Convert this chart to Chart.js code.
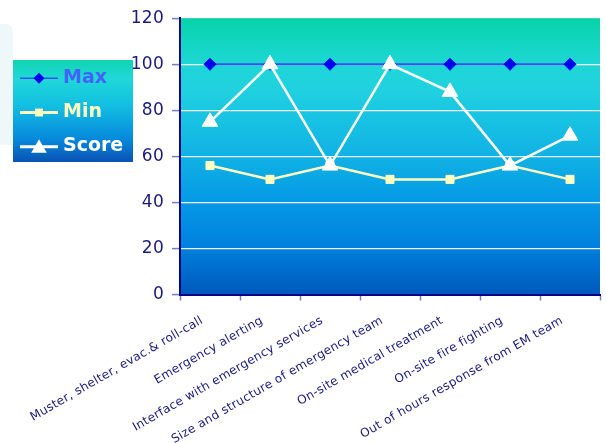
<!DOCTYPE html>
<html><head><meta charset="utf-8">
<script src="https://cdn.jsdelivr.net/npm/chart.js@4.4.1/dist/chart.umd.min.js"></script>
<style>html,body{margin:0;padding:0;background:#fff;overflow:hidden;}#wrap{width:606px;height:443px;position:relative;}</style>
</head><body><div id="wrap"><canvas id="c"></canvas></div>
<script>
const categories = [
  'Muster, shelter, evac.& roll-call',
  'Emergency alerting',
  'Interface with emergency services',
  'Size and structure of emergency team',
  'On-site medical treatment',
  'On-site fire fighting',
  'Out of hours response from EM team'
];
const seriesNames = ['Max', 'Min', 'Score'];
const maxValues = [100, 100, 100, 100, 100, 100, 100];
const minValues = [56, 50, 56, 50, 50, 56, 50];
const scoreValues = [75, 100, 56, 100, 88, 56, 69];
const yTicks = [0, 20, 40, 60, 80, 100, 120];

const NAVY = '#1a1a80';
const TICKC = '#7c7ac4';

function plotGradient(ctx, top, bottom) {
  const g = ctx.createLinearGradient(0, top, 0, bottom);
  g.addColorStop(0.00, '#05d3a8');
  g.addColorStop(0.08, '#10d6bf');
  g.addColorStop(0.17, '#1ed6d6');
  g.addColorStop(0.27, '#20d0e0');
  g.addColorStop(0.34, '#1ac6e2');
  g.addColorStop(0.50, '#10b2e4');
  g.addColorStop(0.67, '#0598e6');
  g.addColorStop(0.83, '#0080dc');
  g.addColorStop(1.00, '#0058bc');
  return g;
}

function marker(ctx, style, x, y, r, fill) {
  ctx.fillStyle = fill;
  ctx.beginPath();
  if (style === 'rectRot') {
    ctx.moveTo(x - r, y); ctx.lineTo(x, y - r); ctx.lineTo(x + r, y); ctx.lineTo(x, y + r);
  } else if (style === 'rect') {
    const s = r * Math.SQRT1_2;
    ctx.rect(x - s, y - s, 2 * s, 2 * s);
  } else {
    ctx.moveTo(x, y - r); ctx.lineTo(x + r * 0.866, y + r / 2); ctx.lineTo(x - r * 0.866, y + r / 2);
  }
  ctx.closePath();
  ctx.fill();
}

const bgPlugin = {
  id: 'bg',
  beforeLayout(chart) { chart.ctx.letterSpacing = '0.3px'; },
  beforeDraw(chart) {
    const ctx = chart.ctx;
    const a = chart.chartArea;
    ctx.save();
    ctx.letterSpacing = '0px';
    // faint shape at left
    ctx.fillStyle = '#eff8f8';
    ctx.beginPath();
    ctx.moveTo(0, 24); ctx.lineTo(8, 24); ctx.quadraticCurveTo(13, 26, 13, 34);
    ctx.lineTo(13, 145); ctx.lineTo(0, 145); ctx.closePath(); ctx.fill();
    // plot background
    ctx.fillStyle = plotGradient(ctx, a.top, a.bottom);
    ctx.fillRect(a.left, a.top, a.right - a.left, a.bottom - a.top);
    // legend box
    const lx = 13, ly = 60, lw = 120, lh = 102;
    const g = ctx.createLinearGradient(0, ly, 0, ly + lh);
    g.addColorStop(0, '#0fd4b0');
    g.addColorStop(0.18, '#20d8d8');
    g.addColorStop(0.45, '#12bee2');
    g.addColorStop(0.78, '#0688dc');
    g.addColorStop(1, '#0a52b2');
    ctx.fillStyle = g;
    ctx.fillRect(lx, ly, lw, lh);
    const textColors = ['#4262fa', '#ffffc0', '#ffffff'];
    const lineW = [1.5, 3, 3];
    const mr = [5.5, 5.6, 9];
    chart.data.datasets.forEach((ds, i) => {
      const y = 78.3 + i * 34.2;
      ctx.strokeStyle = ds.borderColor;
      ctx.lineWidth = lineW[i];
      ctx.beginPath(); ctx.moveTo(20, y); ctx.lineTo(58, y); ctx.stroke();
      marker(ctx, ds.pointStyle, 39, ds.pointStyle === 'triangle' ? y + 1.5 : y, mr[i], ds.pointBackgroundColor);
      ctx.font = 'bold 19px "DejaVu Sans"';
      ctx.fillStyle = textColors[i];
      ctx.textBaseline = 'alphabetic';
      ctx.textAlign = 'left';
      ctx.fillText(ds.label, 63, y + 4.6);
    });
    ctx.restore();
    ctx.letterSpacing = '0.3px';
  }
};

new Chart(document.getElementById('c'), {
  type: 'line',
  data: {
    labels: categories,
    datasets: [
      { label: seriesNames[0], data: maxValues, borderColor: '#3850f0', borderWidth: 2,
        pointStyle: 'rectRot', pointRadius: 6, pointBackgroundColor: '#0000f0', pointBorderColor: '#0000f0',
        pointBorderWidth: 1, tension: 0, order: 3 },
      { label: seriesNames[1], data: minValues, borderColor: '#ffffc0', borderWidth: 2.5,
        pointStyle: 'rect', pointRadius: 5.7, pointBackgroundColor: '#ffffc0', pointBorderColor: '#ffffc0',
        pointBorderWidth: 1, tension: 0, order: 2 },
      { label: seriesNames[2], data: scoreValues, borderColor: '#ffffff', borderWidth: 2.5,
        pointStyle: 'triangle', pointRadius: 9, pointBackgroundColor: '#ffffff', pointBorderColor: '#ffffff',
        pointBorderWidth: 1, tension: 0, order: 1 }
    ]
  },
  options: {
    responsive: true,
    maintainAspectRatio: false,
    animation: false,
    devicePixelRatio: 1,
    layout: { autoPadding: false, padding: { top: 17, right: 6, left: 0, bottom: 0 } },
    plugins: { legend: { display: false }, tooltip: { enabled: false } },
    scales: {
      x: {
        type: 'category',
        offset: true,
        afterFit(s) { s.height = 148.5; s.paddingRight = 0; s.paddingLeft = 0; },
        grid: { offset: true, drawOnChartArea: false, drawTicks: true, tickLength: 6, tickColor: TICKC, tickWidth: 1.5 },
        border: { display: true, color: '#00008a', width: 2 },
        ticks: {
          autoSkip: false, minRotation: 30, maxRotation: 30, padding: 13, labelOffset: -8,
          color: NAVY, font: { family: '"DejaVu Sans"', size: 12 }
        }
      },
      y: {
        min: 0, max: 120,
        afterFit(s) { s.width = 180; },
        afterBuildTicks(s) { s.ticks = yTicks.map(v => ({ value: v })); },
        grid: {
          color: c => (c.tick && (c.tick.value === 0 || c.tick.value === 120)) ? 'rgba(0,0,0,0)' : 'rgba(255,255,255,0.95)',
          lineWidth: 1.2, tickLength: 8, tickColor: TICKC, tickWidth: 1.5
        },
        border: { display: true, color: '#00008a', width: 2 },
        ticks: { stepSize: 20, padding: 8, color: NAVY, font: { family: '"DejaVu Sans"', size: 17 } }
      }
    }
  },
  plugins: [bgPlugin]
});
</script>
</body></html>
